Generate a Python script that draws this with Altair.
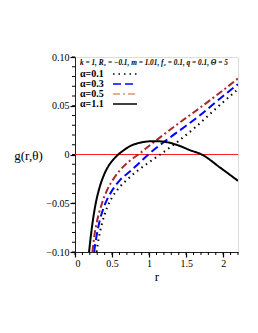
import altair as alt
import pandas as pd

# ---- data ----
r_a01 = [0.29, 0.32, 0.36, 0.43, 0.50, 0.585, 0.70, 0.83, 1.00, 1.15, 1.40, 1.64, 1.90, 2.20]
g_a01 = [-0.100, -0.086, -0.072, -0.055, -0.044, -0.035, -0.026, -0.0175, -0.008, 0.0, 0.014, 0.029, 0.047, 0.067]

r_a03 = [0.257, 0.29, 0.33, 0.38, 0.44, 0.50, 0.61, 0.74, 0.87, 0.99, 1.24, 1.49, 1.70, 1.95, 2.20]
g_a03 = [-0.100, -0.084, -0.069, -0.056, -0.045, -0.037, -0.026, -0.0175, -0.0085, 0.0, 0.015, 0.029, 0.041, 0.057, 0.072]

r_a05 = [0.235, 0.26, 0.29, 0.36, 0.43, 0.52, 0.61, 0.74, 0.856, 1.01, 1.19, 1.40, 1.67, 1.95, 2.20]
g_a05 = [-0.100, -0.084, -0.071, -0.051, -0.037, -0.025, -0.016, -0.0065, 0.0, 0.0095, 0.020, 0.032, 0.047, 0.063, 0.078]

r_a11 = [0.19, 0.21, 0.235, 0.27, 0.32, 0.38, 0.45, 0.52, 0.585, 0.66, 0.74, 0.86, 0.96, 1.06, 1.18, 1.28, 1.42, 1.55, 1.71, 1.96, 2.20]
g_a11 = [-0.100, -0.086, -0.071, -0.054, -0.037, -0.023, -0.012, -0.005, 0.0, 0.0045, 0.0085, 0.0118, 0.0132, 0.0137, 0.0133, 0.012, 0.0086, 0.0045, 0.0, -0.0135, -0.027]

series_names = ["α=0.1", "α=0.3", "α=0.5", "α=1.1"]
series_colors = ["#000000", "#0000ff", "#a52a2a", "#000000"]
legend_colors = ["#000000", "#0000ff", "#d9956f", "#000000"]
series_dash = [[1.5, 4], [8, 4], [7, 3, 2, 3], [1, 0]]

x_major = [0, 0.5, 1, 1.5, 2]
x_minor = [round(i * 0.1, 1) for i in range(0, 23)]
y_major = [-0.10, -0.05, 0, 0.05, 0.10]
y_minor = [round(-0.10 + i * 0.01, 2) for i in range(0, 21)]

title_text = "k = 1, R₀ = −0.1, m = 1.01, f₀ = 0.1, q = 0.1, Θ = 5"

rows = []
for name, rs, gs in zip(series_names, [r_a01, r_a03, r_a05, r_a11], [g_a01, g_a03, g_a05, g_a11]):
    for r, g in zip(rs, gs):
        rows.append({"series": name, "r": r, "g": g})
df = pd.DataFrame(rows)

W, H = 163, 195
FONT = "Liberation Serif"

xscale = alt.Scale(domain=[0, 2.2], nice=False, zero=False)
yscale = alt.Scale(domain=[-0.1, 0.1], nice=False, zero=False)

x_axis = alt.Axis(values=x_major, title="r", titleFont=FONT, titleFontSize=13, titleFontWeight="normal",
                  titlePadding=2, labelFont=FONT, labelFontSize=10, ticks=True, tickSize=5, tickWidth=1.2,
                  tickColor="#000", domainColor="#222", grid=False, labelPadding=1,
                  labelExpr="datum.value == 0 ? '0' : format(datum.value, '')")
y_axis = alt.Axis(values=y_major, title="g(r,θ)", titleFont=FONT, titleFontSize=13, titleFontWeight="normal",
                  titleAngle=0, titleX=-47, titleY=98, titleAlign="center", titleBaseline="middle",
                  labelFont=FONT, labelFontSize=10, ticks=True, tickSize=5, tickWidth=1.2, tickColor="#000",
                  domainColor="#222", grid=False, labelPadding=1,
                  labelExpr="datum.value == 0 ? '0' : replace(format(datum.value, '.2f'), '-', '−')")

lines = []
for name, col, dash in zip(series_names, series_colors, series_dash):
    lines.append(
        alt.Chart(df[df.series == name]).mark_line(clip=True, color=col, strokeDash=dash, strokeWidth=2,
                                                     interpolate="monotone")
        .encode(x=alt.X("r:Q", scale=xscale, axis=x_axis), y=alt.Y("g:Q", scale=yscale, axis=y_axis))
    )

zero_line = alt.Chart(pd.DataFrame({"g": [0.0]})).mark_rule(color="#ff2020", strokeWidth=1).encode(
    y=alt.Y("g:Q", scale=yscale, axis=y_axis)
)

# minor ticks, positioned through the shared scales
minor_x = alt.Chart(pd.DataFrame({"t": x_minor})).mark_rule(color="#000", strokeWidth=1).encode(
    x=alt.X("t:Q", scale=xscale, axis=x_axis), y=alt.value(H), y2=alt.value(H + 3)
)
minor_y = alt.Chart(pd.DataFrame({"t": y_minor})).mark_rule(color="#000", strokeWidth=1).encode(
    y=alt.Y("t:Q", scale=yscale, axis=y_axis), x=alt.value(0), x2=alt.value(-3)
)

dummy = alt.Data(values=[{}])
legend_layers = [
    alt.Chart(dummy).mark_text(text=title_text, font=FONT, fontSize=7.3, fontWeight="bold", fontStyle="italic",
                               align="left", baseline="middle", color="black")
    .encode(x=alt.value(5), y=alt.value(6))
]
for i, (name, col, dash) in enumerate(zip(series_names, legend_colors, series_dash)):
    yy = 17 + 10 * i
    legend_layers.append(
        alt.Chart(dummy).mark_text(text=name, font=FONT, fontSize=10, fontWeight="bold", align="left",
                                   baseline="middle", color="black")
        .encode(x=alt.value(5), y=alt.value(yy))
    )
    legend_layers.append(
        alt.Chart(dummy).mark_rule(color=col, strokeDash=dash, strokeWidth=1.5)
        .encode(x=alt.value(38), x2=alt.value(62), y=alt.value(yy))
    )

chart = alt.layer(zero_line, *lines, minor_x, minor_y, *legend_layers).properties(
    width=W, height=H,
    autosize=alt.AutoSizeParams(type="none"),
    padding={"left": 67, "top": 49, "right": 12, "bottom": 73},
).configure_view(stroke="#222", strokeWidth=1).configure(background="white")

chart.save("out.html", embed_options={"renderer": "svg", "actions": False})
